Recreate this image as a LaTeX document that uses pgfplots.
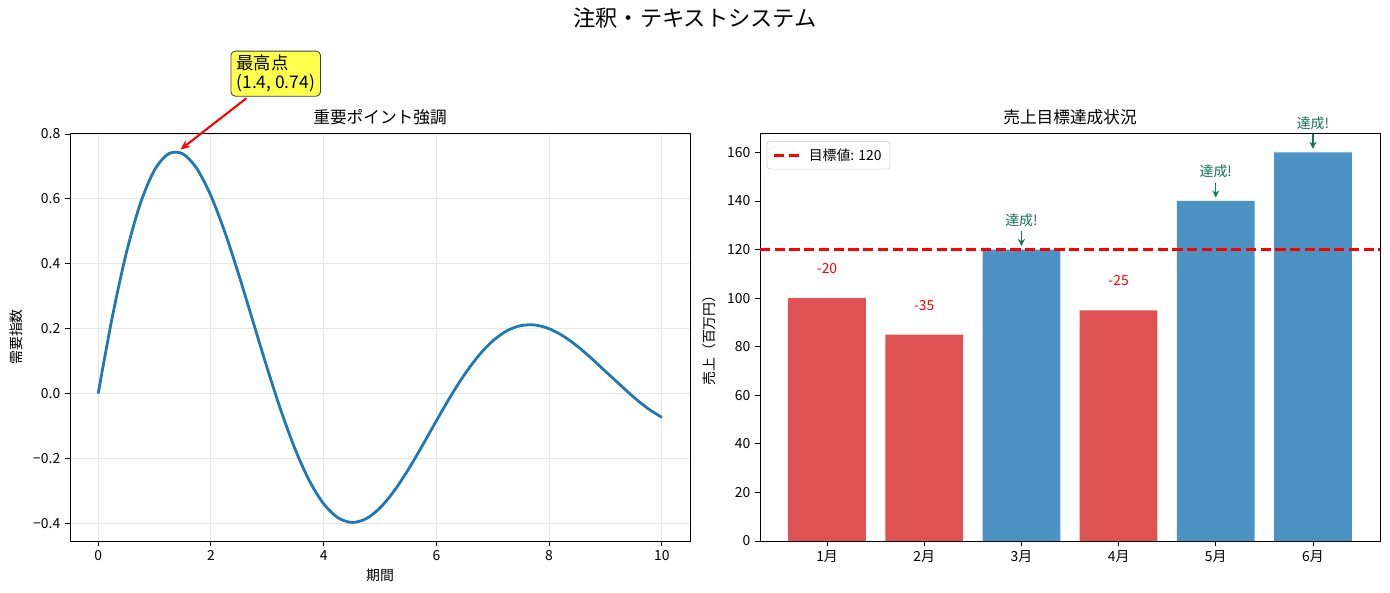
\documentclass[border=0pt]{standalone}
\usepackage{fontspec}
\setmainfont{Noto Sans CJK JP}
\usepackage{pgfplots}
\pgfplotsset{compat=1.18}
\usetikzlibrary{arrows.meta}
\definecolor{mblue}{HTML}{1F77B4}
\definecolor{barred}{RGB}{222,82,83}
\definecolor{barblue}{RGB}{76,146,195}
\definecolor{gridc}{RGB}{231,231,231}
\definecolor{okgreen}{RGB}{20,115,90}
\definecolor{annyellow}{RGB}{255,255,77}
\pgfplotsset{
  myaxis/.style={
    scale only axis, width=446.4pt, height=293.76pt,
    tick align=outside, major tick length=3.5pt,
    tick style={black, line width=0.6pt},
    axis line style={line width=0.6pt},
    tick pos=left,
    ticklabel style={font=\fontsize{10}{12}\selectfont},
    label style={font=\fontsize{10}{12}\selectfont},
    title style={font=\fontsize{12}{14}\selectfont, at={(axis description cs:0.5,1)}, anchor=base, yshift=0.5pt},
    /pgf/number format/assume math mode=true,
    clip=false,
  }
}
\begin{document}
\begin{tikzpicture}
\useasboundingbox (0,0) rectangle (1000.8pt,426.96pt);
\node[font=\fontsize{16}{19}\selectfont] at (500.4pt,414pt) {注釈・テキストシステム};
\begin{axis}[myaxis, at={(50.4pt,37.44pt)}, anchor=south west,
  xmin=-0.5, xmax=10.5, ymin=-0.4547, ymax=0.803,
  xtick={0,2,4,6,8,10},
  ytick={-0.4,-0.2,0,0.2,0.4,0.6,0.8},
  yticklabels={−0.4,−0.2,0.0,0.2,0.4,0.6,0.8},
  grid=major, major grid style={gridc, line width=0.8pt},
  title={重要ポイント強調},
  xlabel={期間}, ylabel={需要指数},
  xlabel style={at={(axis description cs:0.5,-0.0833)}, anchor=center},
  ylabel style={at={(axis description cs:-0.0871,0.5)}, anchor=center},
]
\addplot[mblue, line width=2pt, smooth] coordinates {
(0,0) (0.25,0.2353) (0.5,0.4338) (0.75,0.5867) (1.0,0.6889) (1.25,0.7391)
(1.5,0.7389) (1.75,0.6934) (2.0,0.6095) (2.25,0.4961) (2.5,0.3630)
(2.75,0.2202) (3.0,0.0774) (3.25,-0.0565) (3.5,-0.1742) (3.75,-0.2700)
(4.0,-0.3400) (4.25,-0.3825) (4.5,-0.3975) (4.75,-0.3864) (5.0,-0.3528)
(5.25,-0.3006) (5.5,-0.2349) (5.75,-0.1612) (6.0,-0.0842) (6.25,-0.0095)
(6.5,0.0586) (6.75,0.1166) (7.0,0.1620) (7.25,0.1931) (7.5,0.2093)
(7.75,0.2111) (8.0,0.1997) (8.25,0.1772) (8.5,0.1459) (8.75,0.1086)
(9.0,0.0681) (9.25,0.0283) (9.5,-0.0112) (9.75,-0.0460) (10,-0.0736)
};
\draw[red, line width=1.5pt, -{Stealth[length=7pt,width=6pt]}] (axis cs:2.63,0.91) -- (axis cs:1.46,0.752);
\node[fill=annyellow, draw=black!75, rounded corners=3pt, line width=0.6pt,
  align=left, font=\fontsize{12.5}{13.5}\selectfont, inner xsep=4pt, inner ysep=3pt]
  at (axis cs:3.15,0.986) {最高点\\(1.4, 0.74)};
\end{axis}
\begin{axis}[myaxis, at={(547.2pt,37.44pt)}, anchor=south west,
  xmin=-0.69, xmax=5.69, ymin=0, ymax=168,
  xtick={0,1,2,3,4,5},
  xticklabels={1月,2月,3月,4月,5月,6月},
  ytick={0,20,40,60,80,100,120,140,160},
  title={売上目標達成状況},
  ylabel={売上（百万円）},
  ylabel style={at={(axis description cs:-0.0823,0.5)}, anchor=center},
  legend style={at={(axis description cs:0.011,0.98)}, anchor=north west,
    draw=black!20, rounded corners=2pt, font=\fontsize{10}{12}\selectfont,
    inner xsep=4pt, inner ysep=3pt},
  legend image code/.code={\draw[#1] (0pt,0pt) -- (20pt,0pt);},
  legend cell align=left,
]
\addplot[ybar, bar width=0.8, bar shift=0pt, fill=barred, draw=none, forget plot]
  coordinates {(0,100) (1,85) (3,95)};
\addplot[ybar, bar width=0.8, bar shift=0pt, fill=barblue, draw=none, forget plot]
  coordinates {(2,120) (4,140) (5,160)};
\addplot[red, line width=2pt, dash pattern=on 7.4pt off 3.2pt] coordinates {(-0.69,120) (5.69,120)};
\addlegendentry{\hspace{2pt}目標値: 120}
\node[red, anchor=base, font=\fontsize{10}{12}\selectfont] at (axis cs:0,110) {-20};
\node[red, anchor=base, font=\fontsize{10}{12}\selectfont] at (axis cs:1,95) {-35};
\node[red, anchor=base, font=\fontsize{10}{12}\selectfont] at (axis cs:3,105) {-25};
\node[okgreen, anchor=base, font=\fontsize{10}{12}\selectfont] at (axis cs:2,130) {達成!};
\node[okgreen, anchor=base, font=\fontsize{10}{12}\selectfont] at (axis cs:4,150) {達成!};
\node[okgreen, anchor=base, font=\fontsize{10}{12}\selectfont] at (axis cs:5,170) {達成!};
\draw[okgreen, line width=1pt, -{Stealth[length=5pt,width=5pt]}] (axis cs:2,127.5) -- (axis cs:2,121.5);
\draw[okgreen, line width=1pt, -{Stealth[length=5pt,width=5pt]}] (axis cs:4,147.5) -- (axis cs:4,141.5);
\draw[okgreen, line width=1pt, -{Stealth[length=5pt,width=5pt]}] (axis cs:5,167.5) -- (axis cs:5,161.5);
\end{axis}
\end{tikzpicture}
\end{document}
